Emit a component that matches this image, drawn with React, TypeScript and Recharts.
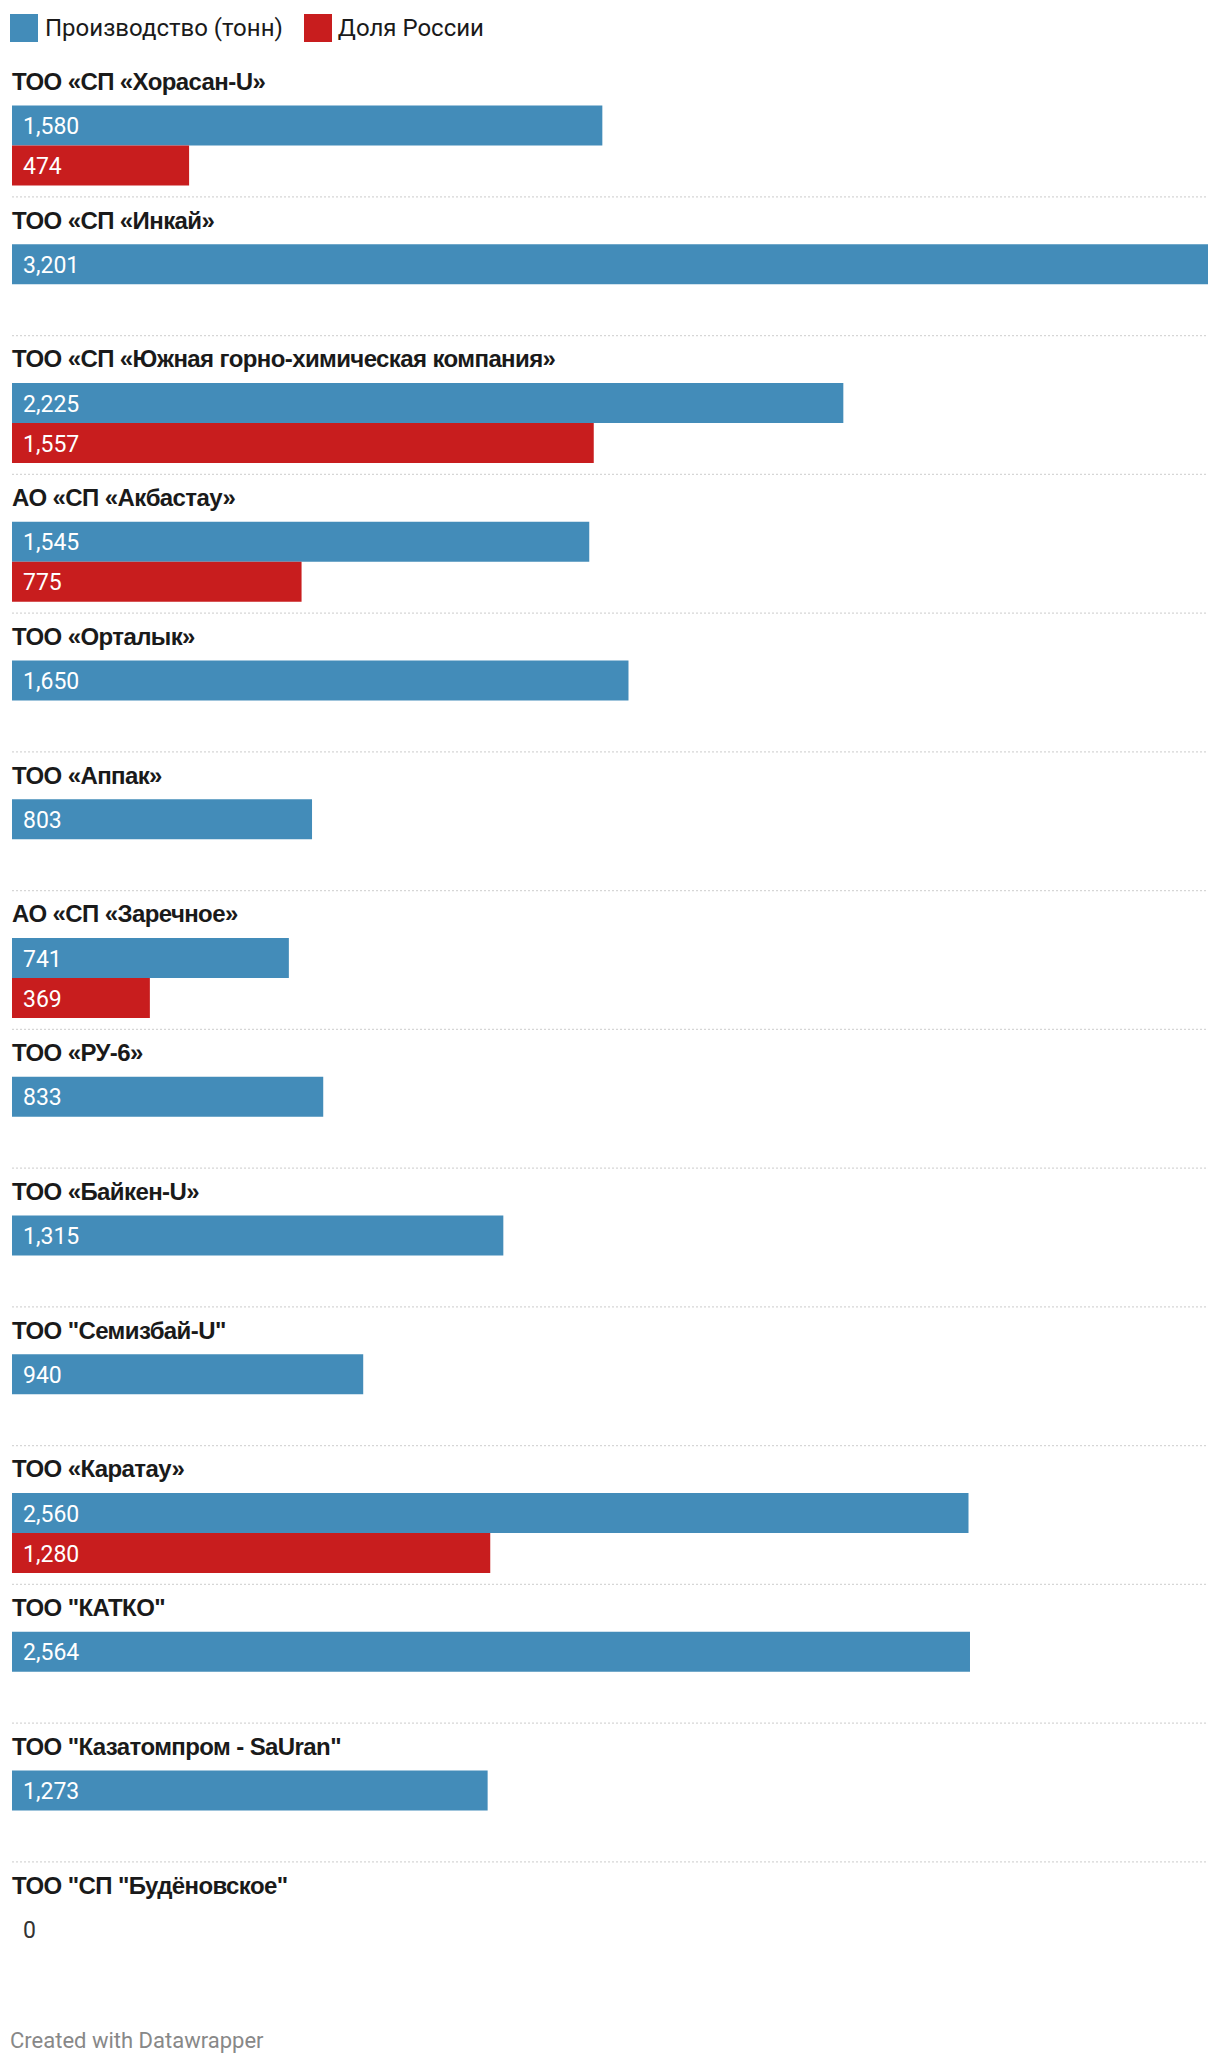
import React from "react";
import { BarChart, Bar, XAxis, YAxis, LabelList } from "recharts";

const companies = [
  "ТОО «СП «Хорасан-U»",
  "ТОО «СП «Инкай»",
  "ТОО «СП «Южная горно-химическая компания»",
  "АО «СП «Акбастау»",
  "ТОО «Орталык»",
  "ТОО «Аппак»",
  "АО «СП «Заречное»",
  "ТОО «РУ-6»",
  "ТОО «Байкен-U»",
  "ТОО \"Семизбай-U\"",
  "ТОО «Каратау»",
  "ТОО \"КАТКО\"",
  "ТОО \"Казатомпром - SaUran\"",
  "ТОО \"СП \"Будёновское\"",
];
const production = [1580, 3201, 2225, 1545, 1650, 803, 741, 833, 1315, 940, 2560, 2564, 1273, 0];
const russiaShare: (number | null)[] = [474, null, 1557, 775, null, null, 369, null, null, null, 1280, null, null, null];
const seriesNames = ["Производство (тонн)", "Доля России"];

const BLUE = "#438cb9";
const RED = "#c81d1e";

const data = companies.map((name, i) => ({
  name,
  production: production[i],
  russia: russiaShare[i],
}));

const renderTitleTick = (props: any) => {
  const { y, payload, index } = props;
  const idx = payload && payload.index !== undefined ? payload.index : index;
  const value = production[idx];
  return (
    <g key={`t-${idx}`}>
      {idx > 0 && (
        <line
          x1={12}
          x2={1208}
          y1={y - 87.8}
          y2={y - 87.8}
          stroke="#d6d6d6"
          strokeWidth={1.3}
          strokeDasharray="2 2"
        />
      )}
      <text
        x={12}
        y={y - 56}
        fill="#1a1a1a"
        fontFamily="'Liberation Sans', Arial, sans-serif"
        fontWeight="bold"
        fontSize={24}
        letterSpacing={-0.6}
      >
        {payload.value}
      </text>
      {value === 0 && (
        <text
          x={23}
          y={y - 19}
          dominantBaseline="central"
          fill="#333333"
          fontFamily="Roboto, sans-serif"
          fontSize={23}
        >
          {value.toLocaleString("en-US")}
        </text>
      )}
    </g>
  );
};

const ValueLabel = (props: any) => {
  const { x, y, width, height, value } = props;
  if (value === null || value === undefined || !width) return null;
  return (
    <text
      x={x + 11}
      y={y + height / 2 + 1}
      dominantBaseline="central"
      fill="#ffffff"
      fontFamily="Roboto, sans-serif"
      fontSize={23}
    >
      {Number(value).toLocaleString("en-US")}
    </text>
  );
};

export default function App() {
  return (
    <div style={{ position: "absolute", left: 0, top: 0, width: 1220, height: 2066, background: "#fff" }}>
      <div style={{ position: "absolute", left: 10, top: 14, display: "flex", alignItems: "center", fontFamily: "Roboto, sans-serif", fontSize: 24, color: "#1a1a1a", lineHeight: "28px" }}>
        <span style={{ display: "inline-block", width: 28, height: 28, background: BLUE, marginRight: 7 }} />
        <span style={{ marginRight: 21 }}>{seriesNames[0]}</span>
        <span style={{ display: "inline-block", width: 28, height: 28, background: RED, marginRight: 6 }} />
        <span>{seriesNames[1]}</span>
      </div>
      <div style={{ position: "absolute", left: 0, top: 0 }}>
        <BarChart
          width={1220}
          height={2066}
          data={data}
          layout="vertical"
          margin={{ top: 76.6, right: 12, bottom: 46.9, left: 11 }}
          barGap={0}
        >
          <XAxis type="number" domain={[0, 3201]} hide />
          <YAxis
            type="category"
            dataKey="name"
            width={1}
            axisLine={false}
            tickLine={false}
            interval={0}
            tick={renderTitleTick}
          />
          <Bar dataKey="production" fill={BLUE} barSize={40} isAnimationActive={false}>
            <LabelList dataKey="production" content={<ValueLabel />} />
          </Bar>
          <Bar dataKey="russia" fill={RED} barSize={40} isAnimationActive={false}>
            <LabelList dataKey="russia" content={<ValueLabel />} />
          </Bar>
        </BarChart>
      </div>
      <div style={{ position: "absolute", left: 10, top: 2029, fontFamily: "Roboto, sans-serif", fontSize: 22, lineHeight: "24px", color: "#888" }}>
        Created with Datawrapper
      </div>
    </div>
  );
}
